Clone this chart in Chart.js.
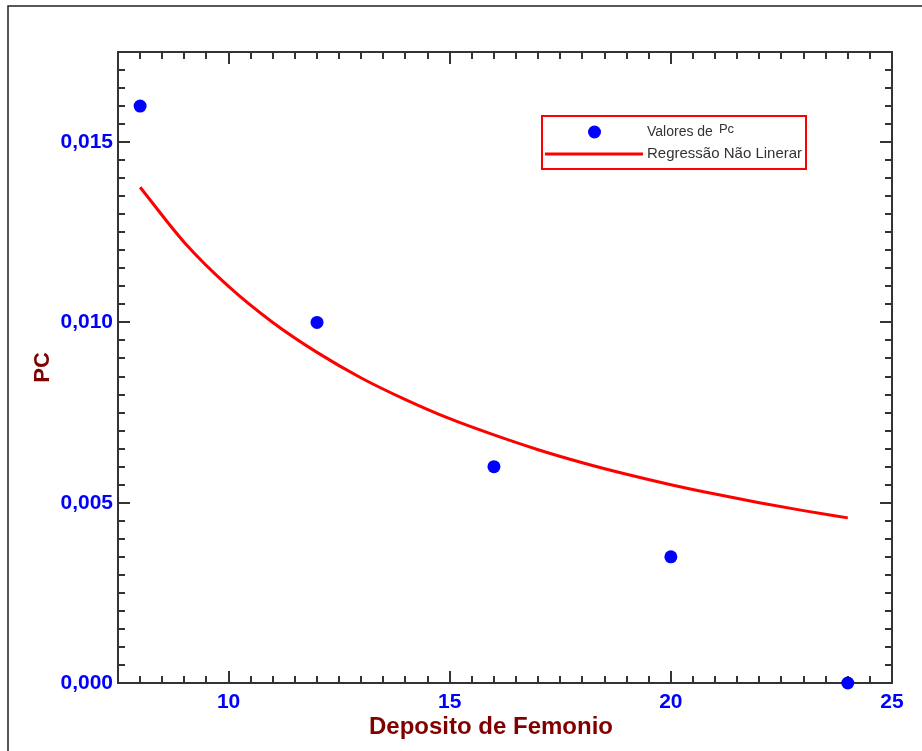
<!DOCTYPE html>
<html>
<head>
<meta charset="utf-8">
<script src="https://cdn.jsdelivr.net/npm/chart.js@4"></script>
<style>
html,body{margin:0;padding:0;background:#fff;}
#wrap{width:922px;height:751px;position:relative;}
</style>
</head>
<body>
<div id="wrap"><canvas id="c" width="922" height="751"></canvas></div>
<script>
// Observed points
const depositoValues = [8, 12, 16, 20, 24];
const pcValues = [0.016, 0.010, 0.006, 0.0035, 0.000];

// Fitted curve
const curveX = [8, 9, 10, 11, 12, 13, 14, 15, 16, 17, 18, 19, 20, 21, 22, 23, 24];
const curveY = [0.01375, 0.01222, 0.01100, 0.01000, 0.00917, 0.00846, 0.00786, 0.00733, 0.00688, 0.00647, 0.00611, 0.00579, 0.00550, 0.00524, 0.00500, 0.00478, 0.00458];

// Tick labels
const xTicks = [10, 15, 20, 25];
const yTicks = [0, 0.005, 0.010, 0.015];
const xMinorStep = 0.5;
const yMinorStep = 0.0005;

const legendLabels = ['Valores de', 'Pc', 'Regressão Não Linerar'];
const xTitle = 'Deposito de Femonio';
const yTitle = 'PC';

const FONT = '"Liberation Sans", Arial, sans-serif';

const framePlugin = {
  id: 'framePlugin',
  beforeDraw(chart) {
    const ctx = chart.ctx;
    ctx.save();
    ctx.fillStyle = '#fff';
    ctx.fillRect(0, 0, chart.width, chart.height);
    ctx.strokeStyle = '#222';
    ctx.lineWidth = 1.5;
    ctx.strokeRect(8, 6, chart.width + 50, chart.height + 50);
    ctx.restore();
  },
  beforeDatasetsDraw(chart) {
    const ctx = chart.ctx;
    const a = chart.chartArea;
    const xs = chart.scales.x, ys = chart.scales.y;
    ctx.save();
    ctx.strokeStyle = '#333';
    ctx.lineWidth = 2;
    ctx.beginPath();
    for (let i = 0; ; i++) {
      const v = xs.min + i * xMinorStep;
      if (v > xs.max + 1e-9) break;
      const major = xTicks.some(t => Math.abs(t - v) < 1e-6);
      const len = major ? 12 : 7;
      const px = Math.round(xs.getPixelForValue(v));
      ctx.moveTo(px, a.bottom); ctx.lineTo(px, a.bottom - len);
      ctx.moveTo(px, a.top); ctx.lineTo(px, a.top + len);
    }
    for (let i = 0; ; i++) {
      const v = ys.min + i * yMinorStep;
      if (v > ys.max + 1e-9) break;
      const major = yTicks.some(t => Math.abs(t - v) < 1e-9);
      const len = major ? 12 : 7;
      const py = Math.round(ys.getPixelForValue(v));
      ctx.moveTo(a.left, py); ctx.lineTo(a.left + len, py);
      ctx.moveTo(a.right, py); ctx.lineTo(a.right - len, py);
    }
    ctx.stroke();
    ctx.strokeRect(a.left, a.top, a.right - a.left, a.bottom - a.top);
    ctx.restore();
  },
  afterDraw(chart) {
    const ctx = chart.ctx;
    const a = chart.chartArea;
    ctx.save();
    // x axis title
    ctx.fillStyle = '#800000';
    ctx.font = 'bold 24px ' + FONT;
    ctx.textAlign = 'center';
    ctx.textBaseline = 'middle';
    ctx.fillText(xTitle, a.left + 373, 727);
    // legend
    const bx = a.left + 424, by = a.top + 64, bw = 264, bh = 53;
    ctx.strokeStyle = '#ff0000';
    ctx.lineWidth = 2;
    ctx.strokeRect(bx, by, bw, bh);
    ctx.fillStyle = '#0000ff';
    ctx.beginPath();
    ctx.arc(bx + 52.5, by + 16, 6.5, 0, Math.PI * 2);
    ctx.fill();
    ctx.strokeStyle = '#ff0000';
    ctx.lineWidth = 3;
    ctx.beginPath();
    ctx.moveTo(bx + 3, by + 38);
    ctx.lineTo(bx + 101, by + 38);
    ctx.stroke();
    ctx.fillStyle = '#333';
    ctx.textAlign = 'left';
    ctx.font = '14px ' + FONT;
    ctx.fillText(legendLabels[0], bx + 105, by + 16);
    const w = ctx.measureText(legendLabels[0]).width;
    ctx.font = '13px ' + FONT;
    ctx.fillText(legendLabels[1], bx + 105 + w + 6, by + 13);
    ctx.font = '15px ' + FONT;
    ctx.fillText(legendLabels[2], bx + 105, by + 38);
    ctx.restore();
  }
};

const ctxEl = document.getElementById('c');
new Chart(ctxEl, {
  type: 'scatter',
  data: {
    datasets: [
      {
        label: legendLabels[2],
        data: curveX.map((x, i) => ({x: x, y: curveY[i]})),
        showLine: true,
        borderColor: '#ff0000',
        borderWidth: 3,
        pointRadius: 0,
        cubicInterpolationMode: 'monotone',
        clip: false,
        order: 2
      },
      {
        label: legendLabels[0] + legendLabels[1],
        data: depositoValues.map((x, i) => ({x: x, y: pcValues[i]})),
        backgroundColor: '#0000ff',
        borderColor: '#0000ff',
        pointRadius: 6.5,
        pointBorderWidth: 0,
        clip: false,
        order: 1
      }
    ]
  },
  options: {
    responsive: false,
    animation: false,
    devicePixelRatio: 1,
    layout: { padding: { left: 0, top: 52, right: 30, bottom: 0 } },
    plugins: { legend: { display: false }, tooltip: { enabled: false } },
    scales: {
      x: {
        type: 'linear',
        min: 7.5,
        max: 25,
        afterBuildTicks(scale) { scale.ticks = xTicks.map(v => ({value: v})); },
        afterFit(scale) { scale.height = 68; },
        grid: { display: false, drawTicks: false },
        border: { display: false },
        ticks: {
          color: '#0000ff',
          font: { family: FONT, size: 21, weight: 'bold' },
          padding: 7,
          maxRotation: 0,
          autoSkip: false
        },
        title: { display: false }
      },
      y: {
        type: 'linear',
        min: 0,
        max: 0.0175,
        afterBuildTicks(scale) { scale.ticks = yTicks.map(v => ({value: v})); },
        afterFit(scale) { scale.width = 118; },
        grid: { display: false, drawTicks: false },
        border: { display: false },
        ticks: {
          color: '#0000ff',
          font: { family: FONT, size: 21, weight: 'bold' },
          padding: 5,
          autoSkip: false,
          callback: v => v.toFixed(3).replace('.', ',')
        },
        title: {
          display: true,
          text: yTitle,
          color: '#800000',
          font: { family: FONT, size: 22, weight: 'bold' },
          padding: { top: 30, bottom: 0 }
        }
      }
    }
  },
  plugins: [framePlugin]
});
</script>
</body>
</html>
